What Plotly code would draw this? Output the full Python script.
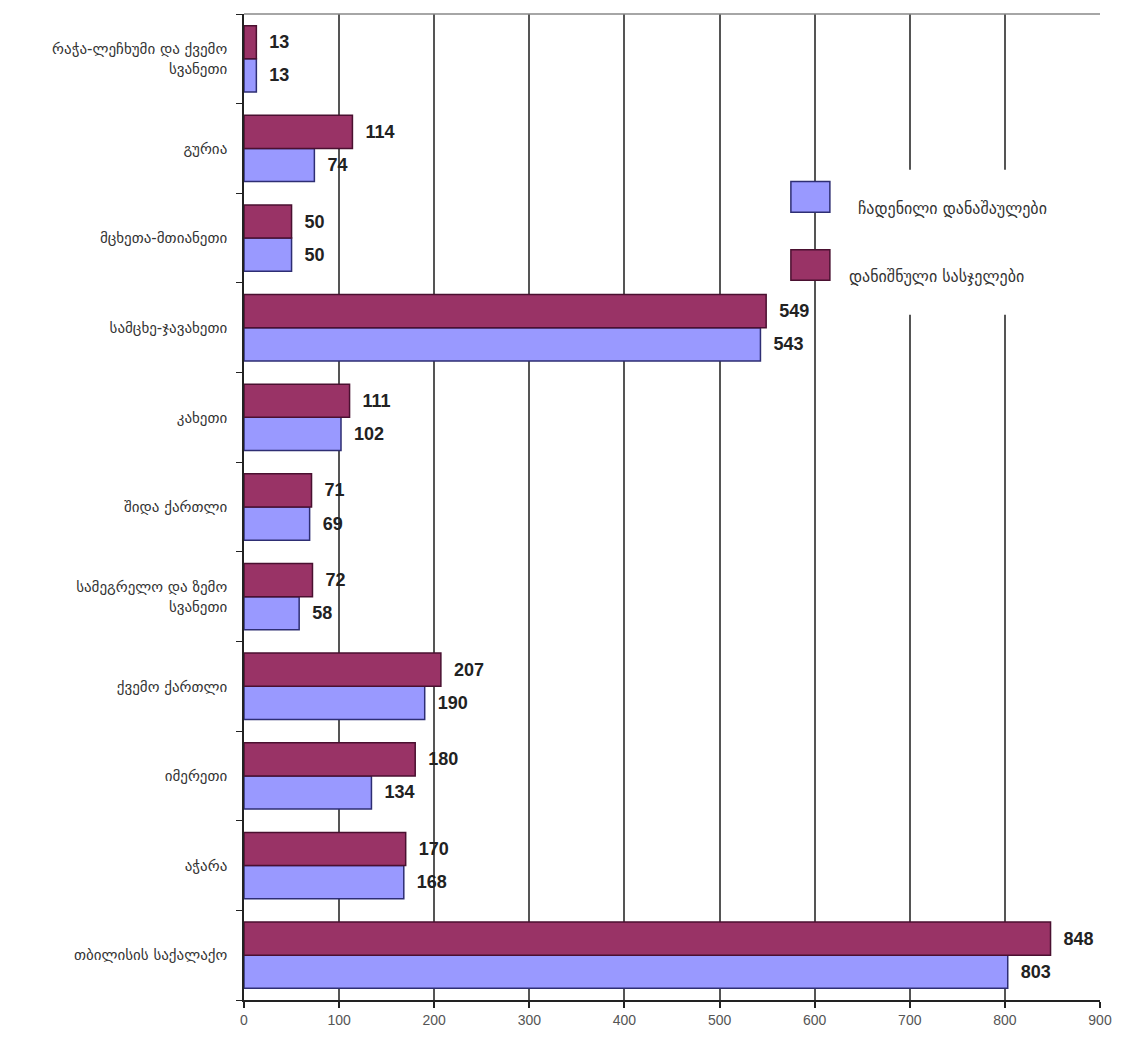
import plotly.graph_objects as go

# categories listed bottom -> top (as drawn on the y axis)
categories = [
    "თბილისის საქალაქო",
    "აჭარა",
    "იმერეთი",
    "ქვემო ქართლი",
    "სამეგრელო და ზემო<br>სვანეთი",
    "შიდა ქართლი",
    "კახეთი",
    "სამცხე-ჯავახეთი",
    "მცხეთა-მთიანეთი",
    "გურია",
    "რაჭა-ლეჩხუმი და ქვემო<br>სვანეთი",
]
crimes = [803, 168, 134, 190, 58, 69, 102, 543, 50, 74, 13]
sentences = [848, 170, 180, 207, 72, 71, 111, 549, 50, 114, 13]
series_names = ["ჩადენილი დანაშაულები", "დანიშნული სასჯელები"]
x_ticks = [0, 100, 200, 300, 400, 500, 600, 700, 800, 900]

blue = "#9999FF"
blue_line = "#2E2E73"
maroon = "#993366"
maroon_line = "#4A1030"
label_font = dict(family="Liberation Sans, Arial", size=18, color="#222222")

fig = go.Figure()
fig.add_trace(go.Bar(
    y=categories, x=crimes, orientation="h", name=series_names[0],
    marker=dict(color=blue, line=dict(color=blue_line, width=1.5)),
    text=crimes, texttemplate="<b>  %{x}</b>", textposition="outside",
    textfont=label_font, cliponaxis=False, showlegend=False,
))
fig.add_trace(go.Bar(
    y=categories, x=sentences, orientation="h", name=series_names[1],
    marker=dict(color=maroon, line=dict(color=maroon_line, width=1.5)),
    text=sentences, texttemplate="<b>  %{x}</b>", textposition="outside",
    textfont=label_font, cliponaxis=False, showlegend=False,
))

shapes = [
    # white backing behind legend text (hides gridlines there)
    dict(type="rect", xref="x", yref="paper", x0=640, x1=880, y0=0.695, y1=0.842,
         fillcolor="white", line=dict(width=0), layer="above"),
    # top frame line
    dict(type="line", xref="paper", yref="paper", x0=0, x1=1, y0=1, y1=1,
         line=dict(color="#888888", width=1.5)),
    # legend swatches
    dict(type="rect", xref="x", yref="paper", x0=575, x1=616, y0=0.799, y1=0.830,
         fillcolor=blue, line=dict(color=blue_line, width=1.5), layer="above"),
    dict(type="rect", xref="x", yref="paper", x0=575, x1=616, y0=0.730, y1=0.761,
         fillcolor=maroon, line=dict(color=maroon_line, width=1.5), layer="above"),
]
annotations = [
    dict(xref="x", yref="paper", x=643, y=0.8145, text=series_names[0], showarrow=False,
         xanchor="left", font=dict(family="DejaVu Sans", size=16, color="#333333")),
    dict(xref="x", yref="paper", x=634, y=0.7455, text=series_names[1], showarrow=False,
         xanchor="left", font=dict(family="DejaVu Sans", size=16, color="#333333")),
]

fig.update_layout(
    width=1110, height=1032,
    margin=dict(l=236, r=18, t=6, b=40),
    paper_bgcolor="white", plot_bgcolor="white",
    barmode="group", bargap=0.26, bargroupgap=0,
    shapes=shapes, annotations=annotations,
    font=dict(family="DejaVu Sans", color="#333333"),
    xaxis=dict(
        range=[0, 900], tickvals=x_ticks, ticktext=[str(v) for v in x_ticks],
        showgrid=True, gridcolor="#555555", gridwidth=2,
        showline=True, linecolor="#222222", linewidth=1.5,
        ticks="outside", ticklen=6, tickcolor="#222222", tickwidth=1.5,
        tickfont=dict(family="Liberation Sans, Arial", size=14, color="#555555"),
        zeroline=False, fixedrange=True,
    ),
    yaxis=dict(
        type="category", categoryorder="array", categoryarray=categories,
        showline=True, linecolor="#222222", linewidth=1.5,
        ticks="outside", tickson="boundaries", ticklen=6, tickcolor="#222222",
        tickfont=dict(family="DejaVu Sans", size=15, color="#333333"),
        showgrid=False, ticklabelstandoff=12,
    ),
)

fig.write_html("out.html")
